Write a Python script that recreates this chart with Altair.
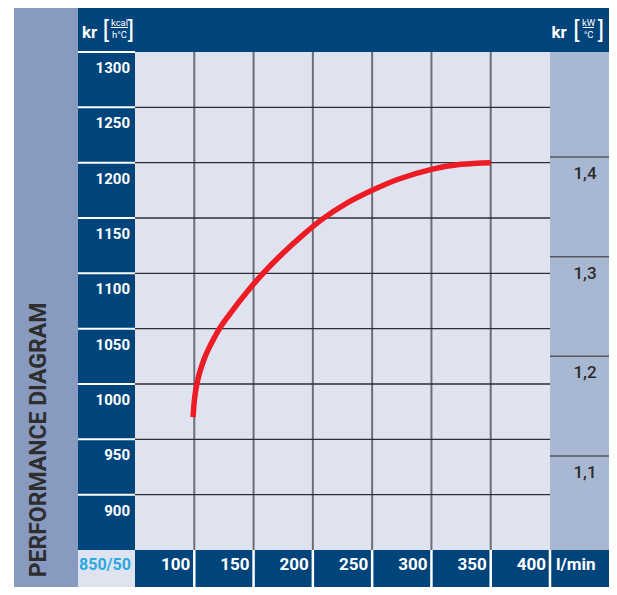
import altair as alt
import pandas as pd

# ---------------- data ----------------
flow_ticks = [100, 150, 200, 250, 300, 350, 400]
grid_flow = [100, 150, 200, 250, 300, 350]
kr_ticks = [900, 950, 1000, 1050, 1100, 1150, 1200, 1250, 1300]
grid_kr = [900, 950, 1000, 1050, 1100, 1150, 1200, 1250]
kw_ticks = [1.1, 1.2, 1.3, 1.4]

curve_flow = [99.0, 99.6, 100.6, 102.2, 104.2, 106.5, 109.2, 112.2, 116.5, 121.2,
              129.5, 140.5, 158.0, 174.5, 192.5, 208.0, 228.0, 250.0, 272.0,
              300.0, 325.0, 350.0]
curve_kr = [970, 980, 990, 1000, 1009, 1017, 1025, 1032, 1041, 1050,
            1062.5, 1078, 1100, 1118, 1135.5, 1149, 1163, 1175, 1185,
            1194, 1198.5, 1200]

FLOW_DOMAIN = [50, 400]
KR_DOMAIN = [850, 1300]
KW_DOMAIN = [1.0057, 1.5053]

# ---------------- style ----------------
FONT = "Roboto, Liberation Sans, sans-serif"
DARK = "#00447c"
SIDE = "#889ac0"
PLOT_BG = "#dfe3ef"
RIGHT_COL = "#a9b8d2"
CYAN = "#2aa9e0"
RED = "#ed1c24"

W, H = 415, 498          # plot area
LB0, LB1 = -121, -57     # left band / dark column edges (px from plot left)
TOP = -44                # top band upper edge
RIGHT = 474              # right edge of frame
BOTTOM = 535             # bottom edge of frame

one = alt.Data(values=[{}])

xs = alt.Scale(domain=FLOW_DOMAIN, nice=False, zero=False)
ys = alt.Scale(domain=KR_DOMAIN, nice=False, zero=False)
kws = alt.Scale(domain=KW_DOMAIN, nice=False, zero=False)


def rect(x, x2, y, y2, color):
    return alt.Chart(one).mark_rect(color=color).encode(
        x=alt.value(x), x2=alt.value(x2), y=alt.value(y), y2=alt.value(y2))


def label(text, x, y, size, color="white", align="center", baseline="alphabetic",
          weight="bold", angle=0):
    kw = dict(text=text, font=FONT, fontSize=size, color=color, align=align,
              baseline=baseline, fontWeight=weight)
    if angle:
        kw["angle"] = angle
    return alt.Chart(one).mark_text(**kw).encode(x=alt.value(x), y=alt.value(y))


def hline(x, x2, y, color="white", width=1):
    return alt.Chart(one).mark_rule(color=color, strokeWidth=width).encode(
        x=alt.value(x), x2=alt.value(x2), y=alt.value(y))


df_vgrid = pd.DataFrame({"flow": grid_flow})
df_hgrid = pd.DataFrame({"kr": grid_kr})
df_yt = pd.DataFrame({"kr": kr_ticks})
df_xt = pd.DataFrame({"flow": flow_ticks})
df_kw = pd.DataFrame({"kw": kw_ticks})
df_curve = pd.DataFrame({"flow": curve_flow, "kr": curve_kr})

# ---------------- frame ----------------
frame = [
    rect(LB0, LB1, TOP, BOTTOM, SIDE),
    rect(LB1, RIGHT, TOP, 0, DARK),
    rect(LB1, 0, 0, H, DARK),
    rect(0, RIGHT, H, BOTTOM, DARK),
    rect(LB1, 0, H, BOTTOM, PLOT_BG),
    rect(W, RIGHT, 0, H, RIGHT_COL),
]

vgrid = alt.Chart(df_vgrid).mark_rule(color="#6c6d76", strokeWidth=2).encode(
    x=alt.X("flow:Q", scale=xs, axis=None), y=alt.value(0), y2=alt.value(H))

hgrid = alt.Chart(df_hgrid).mark_rule(color="#2c2d36", strokeWidth=1.4).encode(
    y=alt.Y("kr:Q", scale=ys, axis=None), x=alt.value(0), x2=alt.value(W))

left_lines = alt.Chart(df_yt).mark_rule(color="white", strokeWidth=2).encode(
    y=alt.Y("kr:Q", scale=ys, axis=None), x=alt.value(LB1), x2=alt.value(0))

left_labels = alt.Chart(df_yt).mark_text(
    font=FONT, fontSize=15, fontWeight="bold", color="white", align="right",
    baseline="middle", dy=16).encode(
    y=alt.Y("kr:Q", scale=ys, axis=None), x=alt.value(-5), text=alt.Text("kr:Q"))

bottom_seps = alt.Chart(df_xt).mark_rule(color="white", strokeWidth=2.5).encode(
    x=alt.X("flow:Q", scale=xs, axis=None), y=alt.value(H), y2=alt.value(BOTTOM))

bottom_labels = alt.Chart(df_xt).mark_text(
    font=FONT, fontSize=17, fontWeight="bold", color="white", align="right",
    baseline="middle", dx=-4).encode(
    x=alt.X("flow:Q", scale=xs, axis=None), y=alt.value(H + 15),
    text=alt.Text("flow:Q"))

curve = alt.Chart(df_curve).mark_line(
    color=RED, strokeWidth=5.5, interpolate="catmull-rom", strokeCap="butt").encode(
    x=alt.X("flow:Q", scale=xs, axis=None),
    y=alt.Y("kr:Q", scale=ys, axis=None))

texts = [
    label("PERFORMANCE DIAGRAM", -96, 388, 23, color="#2e2e2e", baseline="middle",
          angle=270, weight="bold"),
    label("850/50", -30, H + 15, 16, color=CYAN, baseline="middle"),
    label("l/min", 421, H + 15, 17, align="left", baseline="middle"),
    # left unit
    label("kr", -53, -14, 17, align="left"),
    label("[", -29, -14.5, 24, weight="normal"),
    label("]", -4, -14.5, 24, weight="normal"),
    label("kcal", -15.5, -26, 9.5, weight="normal"),
    hline(-24, -7, -24.5),
    label("h°C", -15.5, -14, 9.5, weight="normal"),
    # right unit
    label("kr", 416.5, -14, 17, align="left"),
    label("[", 441.5, -14.5, 24, weight="normal"),
    label("]", 466, -14.5, 24, weight="normal"),
    label("kW", 453.5, -26, 9.5, weight="normal"),
    hline(448, 459, -24.5),
    label("°C", 453.5, -14, 9.5, weight="normal"),
]

kcal_layer = alt.layer(*frame, vgrid, hgrid, left_lines, left_labels, bottom_seps,
                       bottom_labels, curve, *texts)

kw_lines = alt.Chart(df_kw).mark_rule(color="#55585f", strokeWidth=1.5).encode(
    y=alt.Y("kw:Q", scale=kws, axis=None), x=alt.value(W), x2=alt.value(RIGHT))

kw_labels = alt.Chart(df_kw).transform_calculate(
    lab="replace(format(datum.kw, '.1f'), '.', ',')").mark_text(
    font=FONT, fontSize=17, fontWeight=500, color="#2a2a2a", align="center",
    baseline="middle", dy=17).encode(
    y=alt.Y("kw:Q", scale=kws, axis=None), x=alt.value(450), text="lab:N")

kw_layer = alt.layer(kw_lines, kw_labels)

chart = alt.layer(kcal_layer, kw_layer).resolve_scale(y="independent").properties(
    width=W, height=H,
    padding={"left": 127, "top": 44, "right": RIGHT - W, "bottom": BOTTOM - H},
    autosize=alt.AutoSizeParams(type="none"),
).configure_view(fill=PLOT_BG, strokeWidth=0)

chart.save("out.html", embed_options={"renderer": "svg", "actions": False})
